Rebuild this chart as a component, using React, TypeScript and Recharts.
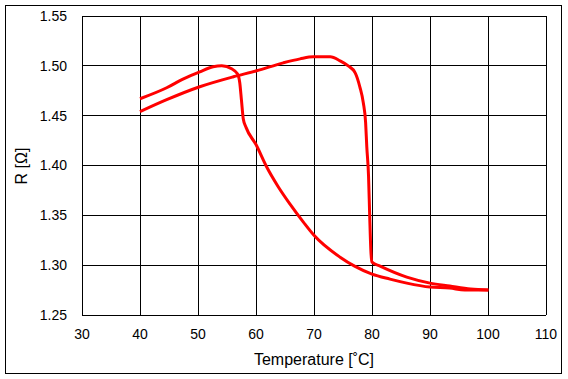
import React from 'react';
import { LineChart, Line, XAxis, YAxis, CartesianGrid } from 'recharts';

const xTicks = [30, 40, 50, 60, 70, 80, 90, 100, 110];
const yTicks = [1.25, 1.3, 1.35, 1.4, 1.45, 1.5, 1.55];

// Heating branch (starts at 40 °C on the lower line)
const heatT = [40, 44.6, 50.3, 56.1, 60.1, 64.7, 67.6, 69.9, 72.8, 74.5, 75.9, 77.1, 77.9, 78.5, 78.9, 79.1, 79.4, 79.6, 79.8, 80.0, 81.4, 86, 90, 93.4, 97, 100.1];
const heatR = [1.454, 1.466, 1.479, 1.489, 1.495, 1.503, 1.507, 1.509, 1.509, 1.505, 1.5, 1.493, 1.479, 1.463, 1.443, 1.419, 1.39, 1.35, 1.315, 1.303, 1.299, 1.288, 1.282, 1.279, 1.276, 1.275];

// Cooling branch (from 100 °C back to 40 °C)
const coolT = [100, 96, 93.4, 90, 86, 83.1, 80, 77, 74.5, 70, 68.2, 65.9, 63.8, 61.8, 60, 58.3, 57.8, 57.5, 57.2, 56.8, 55.8, 54.1, 52.6, 50.3, 47.5, 44.6, 40];
const coolR = [1.275, 1.275, 1.277, 1.278, 1.282, 1.286, 1.291, 1.299, 1.308, 1.33, 1.343, 1.361, 1.379, 1.399, 1.421, 1.438, 1.447, 1.465, 1.483, 1.492, 1.497, 1.5, 1.499, 1.494, 1.487, 1.478, 1.467];

const heatData = heatT.map((t, i) => ({ t, r: heatR[i] }));
const coolData = coolT.map((t, i) => ({ t, r: coolR[i] }));

const FONT = '"Liberation Sans", Arial, sans-serif';

export default function App() {
  return (
    <div style={{ position: 'absolute', left: 0, top: 0, width: 568, height: 379, background: '#fff' }}>
      <div
        style={{
          position: 'absolute',
          left: 5,
          top: 5,
          width: 557,
          height: 369,
          boxSizing: 'border-box',
          border: '1px solid #000',
        }}
      />
      <div style={{ position: 'absolute', left: 0, top: 0 }}>
        <LineChart width={568} height={379} margin={{ top: 16, right: 22, bottom: 14, left: 22 }}>
          <CartesianGrid stroke="#000" strokeWidth={1} shapeRendering="crispEdges" />
          <XAxis
            dataKey="t"
            type="number"
            domain={[30, 110]}
            ticks={xTicks}
            allowDataOverflow
            height={50}
            tickSize={0}
            tickMargin={14}
            axisLine={{ stroke: '#000', shapeRendering: 'crispEdges' }}
            tick={{ fill: '#000', fontSize: 14, fontFamily: FONT }}
            label={{
              value: 'Temperature [˚C]',
              position: 'insideBottom',
              offset: 0,
              fill: '#000',
              fontSize: 16,
              fontFamily: FONT,
            }}
          />
          <YAxis
            dataKey="r"
            type="number"
            domain={[1.25, 1.55]}
            ticks={yTicks}
            allowDataOverflow
            width={60}
            tickSize={0}
            tickMargin={15}
            axisLine={{ stroke: '#000', shapeRendering: 'crispEdges' }}
            tickFormatter={(v: number) => v.toFixed(2)}
            tick={{ fill: '#000', fontSize: 14, fontFamily: FONT }}
            label={{
              content: () => (
                <text
                  x={27}
                  y={166}
                  transform="rotate(-90, 27, 166)"
                  textAnchor="middle"
                  fill="#000"
                  fontSize={16}
                  fontFamily={FONT}
                >
                  R [Ω]
                </text>
              ),
            }}
          />
          <Line data={heatData} dataKey="r" type="monotone" stroke="#ff0000" strokeWidth={3} dot={false} isAnimationActive={false} />
          <Line data={coolData} dataKey="r" type="monotone" stroke="#ff0000" strokeWidth={3} dot={false} isAnimationActive={false} />
        </LineChart>
      </div>
    </div>
  );
}
